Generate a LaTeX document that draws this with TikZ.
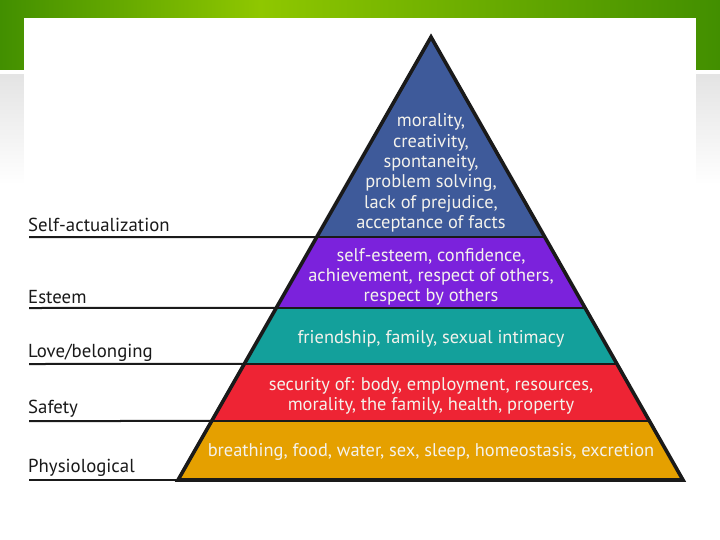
\documentclass[tikz,border=0pt]{standalone}
\usepackage{fontspec}
\setmainfont{PT Sans}
\usetikzlibrary{calc}
\definecolor{gdark}{HTML}{428F00}
\definecolor{glight}{HTML}{8FC700}
\definecolor{grayband}{HTML}{E4E4E4}
\definecolor{cblue}{HTML}{3E5A9A}
\definecolor{cpurple}{HTML}{7B22DC}
\definecolor{cteal}{HTML}{13A09B}
\definecolor{cred}{HTML}{EE2434}
\definecolor{corange}{HTML}{E5A000}
\definecolor{ctext}{HTML}{F4F2EC}
\definecolor{cline}{HTML}{1A1A1A}
\begin{document}
\begin{tikzpicture}[x=1pt,y=-1pt,
  sep/.style={draw=cline, line width=2.4pt},
  outline/.style={draw=cline, line width=3.6pt, line join=miter},
  leftline/.style={draw=cline, line width=2pt},
  ptext/.style={text=ctext, align=center, inner sep=0pt, font=\fontsize{18.4}{20.3}\selectfont},
  lvl/.style={text=black!90, anchor=west, inner sep=0pt, font=\fontsize{18.8}{20}\selectfont}]
\useasboundingbox (0,0) rectangle (720,540);
% background slide
\fill[left color=gdark, right color=glight] (0,0) rectangle (260,70);
\fill[left color=glight, right color=gdark] (260,0) rectangle (720,70);
\fill[top color=grayband, bottom color=white] (0,75) rectangle (720,185);
\fill[white] (24,18) rectangle (696,540);
% pyramid geometry
\coordinate (A) at (431,37);
\coordinate (BL) at (178,480);
\coordinate (BR) at (683,480);
\coordinate (L1) at ($(A)!0.4515!(BL)$);
\coordinate (R1) at ($(A)!0.4515!(BR)$);
\coordinate (L2) at ($(A)!0.6117!(BL)$);
\coordinate (R2) at ($(A)!0.6117!(BR)$);
\coordinate (L3) at ($(A)!0.7381!(BL)$);
\coordinate (R3) at ($(A)!0.7381!(BR)$);
\coordinate (L4) at ($(A)!0.8668!(BL)$);
\coordinate (R4) at ($(A)!0.8668!(BR)$);
% bands
\fill[cblue] (A) -- (L1) -- (R1) -- cycle;
\fill[cpurple] (L1) -- (L2) -- (R2) -- (R1) -- cycle;
\fill[cteal] (L2) -- (L3) -- (R3) -- (R2) -- cycle;
\fill[cred] (L3) -- (L4) -- (R4) -- (R3) -- cycle;
\fill[corange] (L4) -- (BL) -- (BR) -- (R4) -- cycle;
\draw[sep] (L1) -- (R1);
\draw[sep] (L2) -- (R2);
\draw[sep] (L3) -- (R3);
\draw[sep] (L4) -- (R4);
\draw[outline] (A) -- (BL) -- (BR) -- cycle;
% left lines
\coordinate (S1) at (29,237);
\coordinate (S2) at (29,308);
\coordinate (S3) at (29,364);
\coordinate (S4) at (29,421);
\coordinate (S5) at (29,480);
\draw[leftline] (S1) -- (L1);
\draw[leftline] (S2) -- (L2);
\draw[leftline] (S3) -- (L3);
\draw[leftline] (S4) -- (L4);
\draw[leftline] (S5) -- (BL);
% level labels
\node[lvl] (n1) at (28,225) {Self-actualization};
\node[lvl] (n2) at (28,297) {Esteem};
\node[lvl] (n3) at (28,353) {Love/belonging};
\node[lvl] (n4) at (28,409) {Safety};
\node[lvl] (n5) at (28,468) {Physiological};
% band texts
\node[ptext] (t1) at (431,173) {morality,\\creativity,\\spontaneity,\\problem solving,\\lack of prejudice,\\acceptance of facts};
\node[ptext] (t2) at (431,277) {self-esteem, confidence,\\achievement, respect of others,\\respect by others};
\node[ptext] (t3) at (431,339) {friendship, family, sexual intimacy};
\node[ptext] (t4) at (431,396) {security of: body, employment, resources,\\morality, the family, health, property};
\node[ptext] (t5) at (431,452) {breathing, food, water, sex, sleep, homeostasis, excretion};
\end{tikzpicture}
\end{document}
